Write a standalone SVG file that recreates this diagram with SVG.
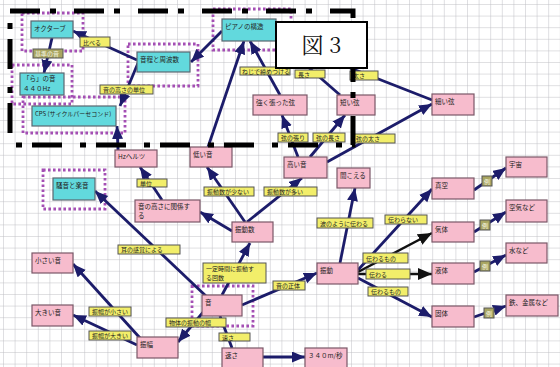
<svg xmlns="http://www.w3.org/2000/svg" width="560" height="367" viewBox="0 0 560 367">
<defs>
<pattern id="grid" x="3" y="4" width="11.6" height="11.6" patternUnits="userSpaceOnUse">
<path d="M11.6 0 L0 0 0 11.6" fill="none" stroke="#bfbfc4" stroke-width="1"/>
</pattern>
<marker id="ah" markerUnits="userSpaceOnUse" markerWidth="14" markerHeight="12" refX="13" refY="5.5" orient="auto">
<path d="M0,0 L13,5.5 L0,11 z" fill="#1c1c6a"/>
</marker>
<marker id="ahk" markerUnits="userSpaceOnUse" markerWidth="15" markerHeight="12" refX="14" refY="6" orient="auto">
<path d="M0,0 L14,6 L0,12 z" fill="#111"/>
</marker>
</defs>
<style>
text{font-family:"Noto Sans CJK JP","Noto Sans",sans-serif;fill:#222;font-size:6.5px}
.cy{fill:#62d9dd;stroke:#5a6670;stroke-width:1.2}
.pk{fill:#f7bccd;stroke:#7a5868;stroke-width:1.2}
.yl{fill:#f2ee6a;stroke:#555;stroke-width:1}
.ol{fill:#a8a560;stroke:#555;stroke-width:1}
.dot{fill:none;stroke:#a44fb4;stroke-width:2.8;stroke-dasharray:2.6 2.4}
.e{fill:none;stroke:#1c1c6a;stroke-width:2.8;marker-end:url(#ah)}
.en{fill:none;stroke:#1c1c6a;stroke-width:2.8}
.ek{fill:none;stroke:#111;stroke-width:2.4;marker-end:url(#ahk)}
.frame{fill:none;stroke:#000;stroke-width:5;stroke-dasharray:30 10 6 18}
.lt{font-size:6px}
.lo{font-size:6px;fill:#f8f8e6}
</style>
<rect width="560" height="367" fill="#fff"/>
<rect width="560" height="367" fill="url(#grid)"/>

<g id="groups">
<rect class="dot" x="22" y="13" width="61" height="38"/>
<rect class="dot" x="12" y="65" width="60" height="39"/>
<rect class="dot" x="23" y="97" width="102" height="36"/>
<rect class="dot" x="128" y="44" width="70" height="42"/>
<rect class="dot" x="213" y="9" width="78" height="41"/>
<rect class="dot" x="43" y="170" width="62" height="39"/>
<rect class="dot" x="192" y="286" width="61" height="40"/>
</g>

<g id="connectors">
<line class="e" x1="118" y1="150" x2="117" y2="126"/>
<line class="e" x1="138" y1="63" x2="120" y2="106"/>
<line class="e" x1="137" y1="60" x2="73" y2="31"/>
<line class="e" x1="52" y1="38" x2="44" y2="73"/>
<line class="e" x1="222" y1="31" x2="191" y2="62"/>
<line class="e" x1="208" y1="147" x2="244" y2="41"/>
<line class="e" x1="280" y1="95" x2="250" y2="41"/>
<line class="en" x1="340" y1="95" x2="284" y2="46"/>
<line class="en" x1="432" y1="100" x2="335" y2="62"/>
<line class="e" x1="298" y1="157" x2="282" y2="115"/>
<line class="e" x1="310" y1="157" x2="345" y2="115"/>
<line class="e" x1="327" y1="162" x2="432" y2="104"/>
<line class="e" x1="245" y1="222" x2="207" y2="167"/>
<line class="e" x1="247" y1="222" x2="302" y2="178"/>
<line class="e" x1="232" y1="231" x2="200" y2="212"/>
<line class="e" x1="162" y1="200" x2="140" y2="167"/>
<line class="e" x1="207" y1="297" x2="95" y2="191"/>
<line class="e" x1="222" y1="295" x2="250" y2="243"/>
<line class="e" x1="242" y1="305" x2="317" y2="273"/>
<line class="e" x1="205" y1="310" x2="178" y2="342"/>
<line class="en" x1="220" y1="316" x2="232" y2="348"/>
<line class="e" x1="263" y1="357" x2="305" y2="357"/>
<line class="e" x1="140" y1="338" x2="73" y2="264"/>
<line class="e" x1="137" y1="345" x2="73" y2="315"/>
<line class="e" x1="340" y1="263" x2="355" y2="188"/>
<line class="e" x1="358" y1="270" x2="432" y2="189"/>
<line class="ek" x1="358" y1="272" x2="432" y2="233"/>
<line class="ek" x1="358" y1="274" x2="432" y2="274"/>
<line class="e" x1="358" y1="278" x2="432" y2="317"/>
<line class="e" x1="474" y1="190" x2="506" y2="168"/>
<line class="e" x1="474" y1="232" x2="506" y2="212"/>
<line class="e" x1="474" y1="272" x2="506" y2="255"/>
<line class="e" x1="474" y1="317" x2="506" y2="306"/>
</g>

<g id="n-octave"><rect class="cy" x="31" y="21" width="42" height="17"/><text x="34" y="31">オクターブ</text></g>
<g id="n-ra"><rect class="cy" x="20" y="73" width="44" height="22"/><text x="23" y="81">「ら」の音</text><text x="23" y="91">４４０Hz</text></g>
<g id="n-cps"><rect class="cy" x="32" y="106" width="84" height="20"/><text x="35" y="116" style="font-size:6px">CPS (サイクルパーセコンド)</text></g>
<g id="n-interval"><rect class="cy" x="137" y="52" width="53" height="20"/><text x="140" y="62">音程と周波数</text></g>
<g id="n-piano"><rect class="cy" x="222" y="19" width="54" height="22"/><text x="225" y="29">ピアノの構造</text></g>
<g id="n-noise"><rect class="cy" x="53" y="178" width="42" height="22"/><text x="56" y="188">騒音と楽音</text></g>

<g id="n-tense"><rect class="pk" x="253" y="95" width="54" height="20"/><text x="256" y="105">強く張った弦</text></g>
<g id="n-short"><rect class="pk" x="337" y="95" width="38" height="20"/><text x="340" y="105">短い弦</text></g>
<g id="n-thin"><rect class="pk" x="432" y="94" width="42" height="21"/><text x="435" y="104">細い弦</text></g>
<g id="n-high"><rect class="pk" x="284" y="157" width="43" height="21"/><text x="287" y="167">高い音</text></g>
<g id="n-low"><rect class="pk" x="190" y="147" width="42" height="20"/><text x="193" y="157">低い音</text></g>
<g id="n-hear"><rect class="pk" x="337" y="168" width="33" height="20"/><text x="340" y="178">聞こえる</text></g>
<g id="n-freq"><rect class="pk" x="232" y="222" width="41" height="20"/><text x="235" y="232">振動数</text></g>
<g id="n-hz"><rect class="pk" x="115" y="150" width="42" height="17"/><text x="118" y="159">Hzヘルツ</text></g>
<g id="n-pitch"><rect class="pk" x="135" y="200" width="65" height="22"/><text x="138" y="209">音の高さに関係す</text><text x="138" y="218">る</text></g>
<g id="n-small"><rect class="pk" x="32" y="253" width="41" height="20"/><text x="35" y="263">小さい音</text></g>
<g id="n-big"><rect class="pk" x="32" y="305" width="41" height="21"/><text x="35" y="315">大きい音</text></g>
<g id="n-amp"><rect class="pk" x="137" y="337" width="41" height="21"/><text x="140" y="347">振幅</text></g>
<g id="n-sound"><rect class="pk" x="202" y="295" width="40" height="21"/><text x="205" y="305">音</text></g>
<g id="n-speed"><rect class="pk" x="222" y="348" width="41" height="21"/><text x="225" y="358">速さ</text></g>
<g id="n-340"><rect class="pk" x="305" y="348" width="42" height="21"/><text x="308" y="358">３４０m/秒</text></g>
<g id="n-vib"><rect class="pk" x="317" y="263" width="41" height="21"/><text x="320" y="273">振動</text></g>
<g id="n-vacuum"><rect class="pk" x="432" y="178" width="42" height="21"/><text x="435" y="188">真空</text></g>
<g id="n-gas"><rect class="pk" x="432" y="222" width="42" height="20"/><text x="435" y="232">気体</text></g>
<g id="n-liquid"><rect class="pk" x="432" y="263" width="42" height="21"/><text x="435" y="273">液体</text></g>
<g id="n-solid"><rect class="pk" x="432" y="306" width="42" height="21"/><text x="435" y="316">固体</text></g>
<g id="n-space"><rect class="pk" x="506" y="157" width="41" height="20"/><text x="509" y="167">宇宙</text></g>
<g id="n-air"><rect class="pk" x="506" y="200" width="41" height="22"/><text x="509" y="210">空気など</text></g>
<g id="n-water"><rect class="pk" x="506" y="243" width="41" height="20"/><text x="509" y="253">水など</text></g>
<g id="n-iron"><rect class="pk" x="506" y="295" width="52" height="21"/><text x="509" y="305">鉄、金属など</text></g>

<g id="edge-labels">
<rect class="yl" x="80" y="37" width="30" height="10"/><text class="lt" x="83" y="44.5">比べる</text>
<rect class="ol" x="33" y="49" width="30" height="9"/><text class="lo" x="35" y="56">基準の音</text>
<rect class="yl" x="100" y="85" width="53" height="9"/><text class="lt" x="103" y="92">音の高さの単位</text>
<rect class="yl" x="240" y="67" width="50" height="8"/><text class="lt" x="242" y="73.5">ねじで締めつける</text>
<rect class="yl" x="295" y="70" width="30" height="8"/><text class="lt" x="298" y="76.5">長さ</text>
<rect class="yl" x="350" y="71" width="28" height="9"/><text class="lt" x="353" y="78">太さ</text>
<rect class="yl" x="278" y="133" width="30" height="9"/><text class="lt" x="281" y="140">弦の張り</text>
<rect class="yl" x="313" y="133" width="32" height="9"/><text class="lt" x="316" y="140">弦の長さ</text>
<rect class="yl" x="353" y="134" width="42" height="9"/><text class="lt" x="356" y="141">弦の太さ</text>
<rect class="yl" x="137" y="179" width="30" height="8"/><text class="lt" x="140" y="185.5">単位</text>
<rect class="yl" x="204" y="187" width="50" height="9"/><text class="lt" x="207" y="194">振動数が少ない</text>
<rect class="yl" x="264" y="187" width="53" height="9"/><text class="lt" x="267" y="194">振動数が多い</text>
<rect class="yl" x="317" y="218" width="56" height="10"/><text class="lt" x="320" y="225.5">波のように伝わる</text>
<rect class="yl" x="118" y="245" width="62" height="9"/><text class="lt" x="121" y="252">耳の感覚による</text>
<rect class="yl" x="203" y="263" width="63" height="20"/><text class="lt" x="206" y="271">一定時間に振動す</text><text class="lt" x="206" y="280">る回数</text>
<rect class="yl" x="273" y="281" width="32" height="9"/><text class="lt" x="276" y="288">音の正体</text>
<rect class="yl" x="89" y="307" width="42" height="9"/><text class="lt" x="92" y="314">振幅が小さい</text>
<rect class="yl" x="89" y="331" width="42" height="9"/><text class="lt" x="92" y="338">振幅が大きい</text>
<rect class="yl" x="166" y="318" width="60" height="9"/><text class="lt" x="169" y="325">物体の振動の幅</text>
<rect class="yl" x="219" y="333" width="31" height="8"/><text class="lt" x="222" y="339.5">速さ</text>
<rect class="yl" x="385" y="215" width="42" height="9"/><text class="lt" x="388" y="222">伝わらない</text>
<rect class="yl" x="363" y="253" width="45" height="10"/><text class="lt" x="366" y="260.5">伝わるもの</text>
<rect class="yl" x="366" y="269" width="44" height="10"/><text class="lt" x="369" y="276.5">伝わる</text>
<rect class="yl" x="368" y="287" width="40" height="9"/><text class="lt" x="371" y="294">伝わるもの</text>
<rect class="ol" x="482" y="176" width="10" height="10"/><text class="lo" x="484" y="183.5">例</text>
<rect class="ol" x="480" y="220" width="10" height="10"/><text class="lo" x="482" y="227.5">例</text>
<rect class="ol" x="480" y="261" width="10" height="10"/><text class="lo" x="482" y="268.5">例</text>
<rect class="ol" x="484" y="308" width="10" height="10"/><text class="lo" x="486" y="315.5">例</text>
</g>

<rect class="frame" x="10" y="11" width="343" height="134"/>

<g id="figure-title">
<rect x="276" y="22" width="91" height="46" fill="#fff" stroke="#000" stroke-width="2"/>
<text x="321.5" y="53" text-anchor="middle" style="font-family:'Noto Serif CJK JP','Noto Sans CJK JP','Liberation Serif',serif;font-size:22px;fill:#111">図 3</text>
</g>
</svg>
